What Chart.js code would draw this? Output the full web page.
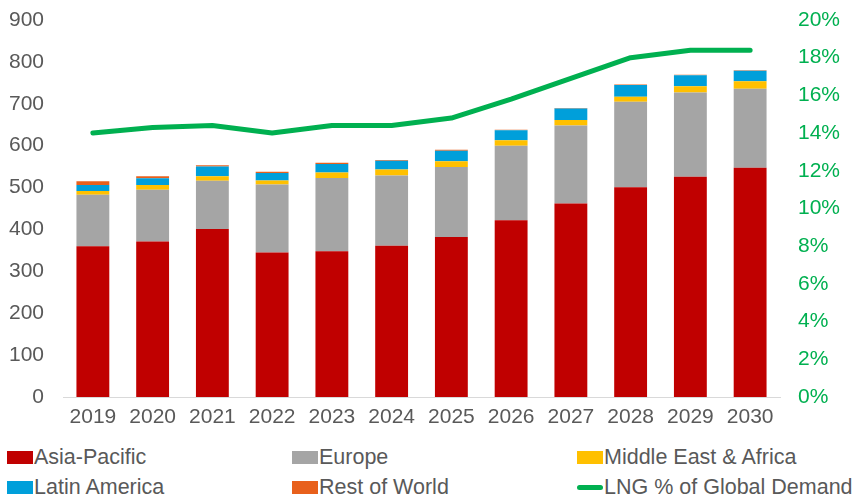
<!DOCTYPE html>
<html>
<head>
<meta charset="utf-8">
<script src="https://cdn.jsdelivr.net/npm/chart.js@4.4.0/dist/chart.umd.min.js"></script>
<style>
  body { margin: 0; background: #fff; font-family: "Liberation Sans", Arial, sans-serif; }
  #wrap { position: relative; width: 854px; height: 440px; }
  #legend { position: relative; width: 854px; height: 60px; color: #595959; font-size: 21.5px; }
  .item { position: absolute; display: flex; align-items: center; white-space: nowrap; }
  .box { width: 26px; height: 13px; margin-right: 1px; }
  .ln { width: 26px; height: 5px; border-radius: 3px; margin-right: 1px; }
</style>
</head>
<body>
<div id="wrap"><canvas id="lngChart"></canvas></div>
<div id="legend"></div>
<script>
var years = ["2019", "2020", "2021", "2022", "2023", "2024", "2025", "2026", "2027", "2028", "2029", "2030"];
var asiaPacific = [360, 371, 401, 345, 348, 361, 382, 422, 462, 501, 526, 547];
var europe = [123, 124, 115, 162, 175, 168, 167, 178, 186, 204, 201, 189];
var middleEastAfrica = [9, 11, 11, 10, 13, 14, 14, 13, 13, 12, 15, 18];
var latinAmerica = [14, 16, 23, 18, 20, 21, 25, 24, 28, 28, 26, 25];
var restOfWorld = [9, 5, 3, 3, 3, 2, 2, 1, 1, 1, 1, 1];
var lngShare = [14.0, 14.3, 14.4, 14.0, 14.4, 14.4, 14.8, 15.8, 16.9, 18.0, 18.4, 18.4];

var grey = '#595959';
var green = '#00B050';

function barSet(label, data, color) {
  return {
    type: 'bar', label: label, data: data, backgroundColor: color,
    yAxisID: 'y', stack: 's', order: 1,
    barPercentage: 0.55, categoryPercentage: 1
  };
}

var datasets = [
  barSet('Asia-Pacific', asiaPacific, '#C00000'),
  barSet('Europe', europe, '#A5A5A5'),
  barSet('Middle East & Africa', middleEastAfrica, '#FFC000'),
  barSet('Latin America', latinAmerica, '#009FDA'),
  barSet('Rest of World', restOfWorld, '#E8601C'),
  {
    type: 'line', label: 'LNG % of Global Demand', data: lngShare,
    borderColor: green, backgroundColor: green, borderWidth: 5,
    pointRadius: 0, tension: 0, yAxisID: 'y2', order: 0,
    borderCapStyle: 'round', borderJoinStyle: 'round'
  }
];

// fixed axis sizes so the plot area sits where the original one does
function fixWidth(w) {
  return function (s) {
    s.width = w;
    s.paddingTop = 0;
    s.paddingBottom = 0;
  };
}

var ctx = document.getElementById("lngChart").getContext("2d");
new Chart(ctx, {
  type: 'bar',
  data: { labels: years, datasets: datasets },
  options: {
    responsive: true,
    maintainAspectRatio: false,
    animation: false,
    layout: { padding: { top: 20, left: 0, right: 0, bottom: 0 } },
    plugins: { legend: { display: false }, tooltip: { enabled: false } },
    scales: {
      x: {
        stacked: true,
        grid: { display: false, drawTicks: false },
        border: { display: true, color: '#D9D9D9', width: 1 },
        ticks: { color: grey, font: { size: 21, family: 'Liberation Sans' }, padding: 8, maxRotation: 0 },
        afterFit: function (s) { s.height = 43; }
      },
      y: {
        position: 'left', stacked: true, min: 0, max: 900,
        grid: { display: false, drawTicks: false },
        border: { display: false },
        ticks: { stepSize: 100, color: grey, font: { size: 21, family: 'Liberation Sans' }, padding: 19 },
        afterFit: fixWidth(63)
      },
      y2: {
        position: 'right', min: 0, max: 20,
        grid: { display: false, drawTicks: false },
        border: { display: false },
        ticks: {
          stepSize: 2, color: green, font: { size: 21, family: 'Liberation Sans' }, padding: 18,
          callback: function (v) { return v + '%'; }
        },
        afterFit: fixWidth(74)
      }
    }
  }
});

// legend laid out in three columns like the original
var legendPos = [[7, 0], [292, 0], [577, 0], [7, 1], [292, 1], [577, 1]];
var legendEl = document.getElementById('legend');
datasets.forEach(function (ds, i) {
  var item = document.createElement('div');
  item.className = 'item';
  item.style.left = legendPos[i][0] + 'px';
  item.style.top = (5 + legendPos[i][1] * 30) + 'px';
  var mark = document.createElement('span');
  mark.className = ds.type === 'line' ? 'ln' : 'box';
  mark.style.background = ds.type === 'line' ? ds.borderColor : ds.backgroundColor;
  var txt = document.createElement('span');
  txt.textContent = ds.label;
  item.appendChild(mark);
  item.appendChild(txt);
  legendEl.appendChild(item);
});
</script>
</body>
</html>
